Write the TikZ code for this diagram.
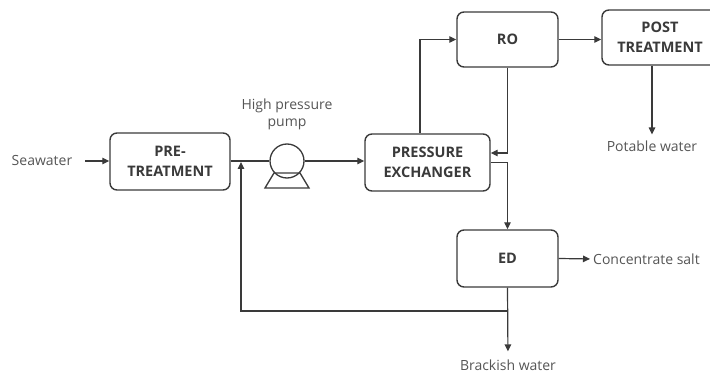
\documentclass[tikz,border=0pt]{standalone}
\usepackage{fontspec}
\setmainfont{Open Sans}
\usetikzlibrary{arrows.meta,calc}
\definecolor{ln}{HTML}{3A3A3A}
\definecolor{tx}{HTML}{555555}
\tikzset{
  proc/.style={draw=ln, line width=1.4pt, rounded corners=7pt, align=center,
    font=\fontsize{14.5}{20}\selectfont\bfseries, text=ln, inner sep=0pt},
  lbl/.style={font=\fontsize{14}{17}\selectfont, text=tx, inner sep=0pt, align=center},
  flow/.style={draw=ln, line width=1.2pt, -{Triangle[length=7pt,width=6.5pt]}},
  pipe/.style={draw=ln, line width=1.2pt},
}
\begin{document}
\begin{tikzpicture}[x=1pt,y=-1pt]
\useasboundingbox (0,0) rectangle (710,374);
% boxes
\node[proc, minimum width=120pt, minimum height=57pt] (pre) at (170,161.5) {PRE-\\TREATMENT};
\node[proc, minimum width=125pt, minimum height=57pt] (px) at (427.5,162.5) {PRESSURE\\EXCHANGER};
\node[proc, minimum width=101pt, minimum height=55pt] (ro) at (507.5,39.5) {RO};
\node[proc, minimum width=116pt, minimum height=55pt] (post) at (660,37.5) {POST\\TREATMENT};
\node[proc, minimum width=101pt, minimum height=57pt] (ed) at (507.5,258.5) {ED};
% pump
\node[draw=ln, line width=1.3pt, circle, minimum size=34pt, inner sep=0pt] (pump) at (287,161) {};
\draw[pipe, line width=1.3pt] (274,173) -- (300,173) -- (309,188) -- (265,188) -- cycle;
% labels
\node[lbl] (sea) at (42,161) {Seawater};
\node[lbl] (hpp) at (287,114) {High pressure\\pump};
\node[lbl] (pot) at (652,146) {Potable water};
\node[lbl, anchor=west] (salt) at (593,259) {Concentrate salt};
\node[lbl] (brk) at (508,365) {Brackish water};
% coordinates
\coordinate (seaend) at (85,161);
\coordinate (j) at (507.5,311);
\coordinate (fb) at (241,311);
\coordinate (fbtop) at (241,162);
% connectors
\draw[flow] (seaend) -- (pre.west |- seaend);
\draw[pipe] (pre.east |- pump.west) -- (pump.west);
\draw[flow] (pump.east) -- (px.west |- pump.east);
\draw[flow] ([xshift=-7.5pt]px.north) |- (ro.west);
\draw[flow] (ro.south) |- ([yshift=9.5pt]px.east);
\draw[flow] (px.east) -| (ed.north);
\draw[flow] (ro.east) -- (post.west |- ro.east);
\draw[flow, shorten >=6pt] (post.south -| pot.north) -- (pot.north);
\draw[flow, shorten >=3pt] (ed.east) -- (salt.west);
\draw[flow, shorten >=8pt] (ed.south) -- (brk.north);
\draw[flow] (j) -- (fb) -- (fbtop);
\end{tikzpicture}
\end{document}
